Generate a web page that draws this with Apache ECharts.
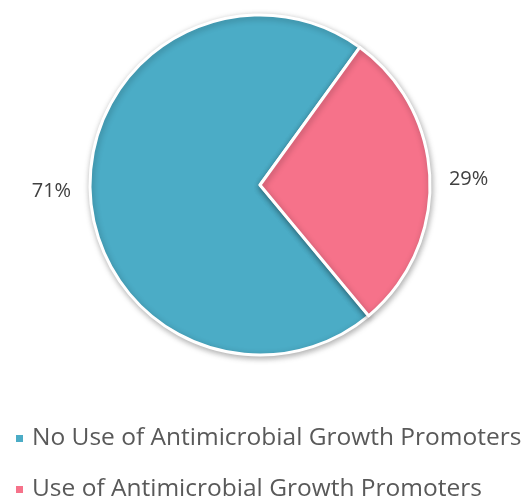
<!DOCTYPE html>
<html><head><meta charset="utf-8">
<script src="https://cdn.jsdelivr.net/npm/echarts@6/dist/echarts.min.js"></script>
<style>html,body{margin:0;padding:0;background:#fff}#c{width:523px;height:498px}</style>
</head><body><div id="c"></div>
<script>
const categories = ["No Use of Antimicrobial Growth Promoters", "Use of Antimicrobial Growth Promoters"];
const values = [71, 29];
const colors = ["#4BACC6", "#F6728A"];

const legendBase = {
  orient: 'vertical',
  left: 9,
  itemWidth: 9,
  itemHeight: 9,
  icon: 'rect',
  textStyle: {fontFamily: 'Open Sans', fontSize: 24.5, color: '#595959', padding: [0,0,0,3]}
};

const chart = echarts.init(document.getElementById('c'), null, {renderer: 'canvas'});
chart.setOption({
  animation: false,
  color: colors,
  legend: [
    Object.assign({}, legendBase, {top: 421, data: [categories[0]]}),
    Object.assign({}, legendBase, {top: 472, data: [categories[1]]})
  ],
  series: [{
    type: 'pie',
    center: [260, 185],
    radius: [0, 170],
    startAngle: 309.7,
    clockwise: true,
    data: categories.map((n, i) => ({name: n, value: values[i]})),
    itemStyle: {borderColor: '#fff', borderWidth: 3, shadowBlur: 6, shadowColor: 'rgba(0,0,0,0.3)', shadowOffsetX: 1, shadowOffsetY: 2},
    label: {show: true, position: 'outside', formatter: '{d}%', fontFamily: 'Open Sans', fontSize: 20, color: '#404040'},
    labelLine: {show: false, length: 10, length2: 4},
    emphasis: {disabled: true}
  }]
});
</script></body></html>
